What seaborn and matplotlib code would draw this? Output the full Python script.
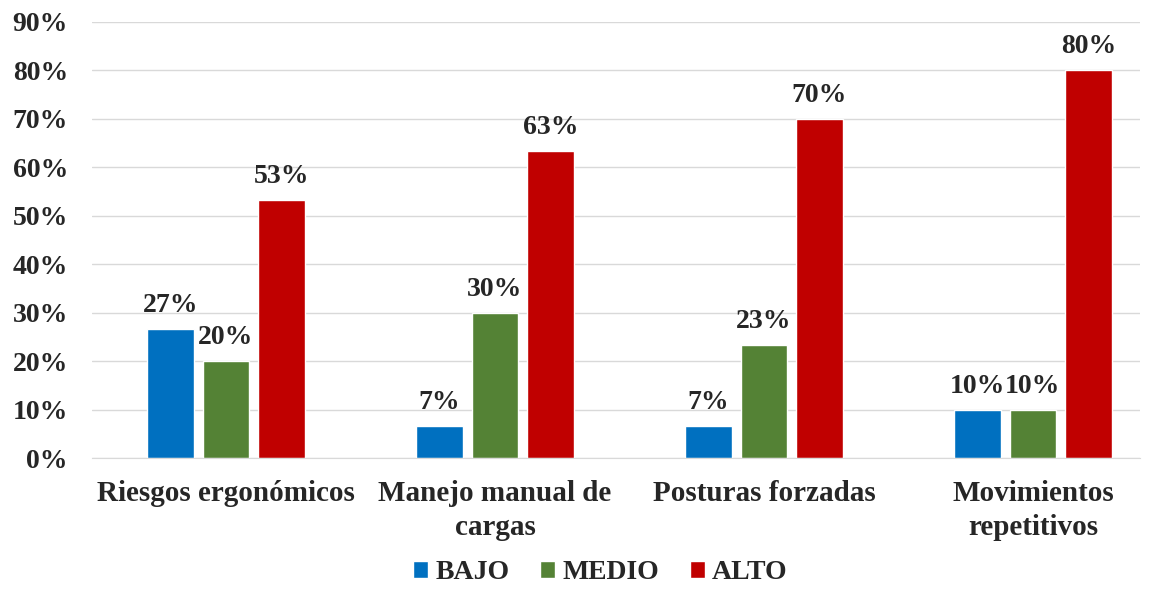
import pandas as pd
import seaborn as sns
import matplotlib.pyplot as plt
from matplotlib.ticker import PercentFormatter

# --- Data ---
CATEGORIES = ["Riesgos ergonómicos", "Manejo manual de\ncargas",
              "Posturas forzadas", "Movimientos\nrepetitivos"]
LEVELS = ["BAJO", "MEDIO", "ALTO"]
BAJO = [26.7, 6.7, 6.7, 10.0]
MEDIO = [20.0, 30.0, 23.3, 10.0]
ALTO = [53.3, 63.3, 70.0, 80.0]
COLORS = ["#0070C0", "#548235", "#C00000"]

df = pd.DataFrame({
    "categoria": CATEGORIES * 3,
    "nivel": [lv for lv in LEVELS for _ in CATEGORIES],
    "valor": BAJO + MEDIO + ALTO,
})

sns.set_style("white")
plt.rcParams["font.family"] = ["Liberation Serif", "DejaVu Serif"]
plt.rcParams["font.weight"] = "bold"

FS = 20

fig = plt.figure(figsize=(11.59, 5.89), dpi=100)
ax = fig.add_axes([0.079, 0.222, 0.905, 0.741])

sns.barplot(data=df, x="categoria", y="valor", hue="nivel",
            palette=COLORS, width=0.62, gap=0.16, ax=ax,
            saturation=1, legend=True)

for cont in ax.containers:
    ax.bar_label(cont, labels=[f"{v:.0f}%" for v in cont.datavalues],
                 padding=8, fontsize=FS, fontweight="bold")

ax.set_ylim(0, 90)
ax.set_xlim(-0.5, 3.4)
ax.set_yticks(range(0, 91, 10))
ax.yaxis.set_major_formatter(PercentFormatter(decimals=0))
ax.grid(axis="y", color="#D9D9D9", linewidth=1)
ax.set_axisbelow(True)
for s in ["top", "right", "left"]:
    ax.spines[s].set_visible(False)
ax.spines["bottom"].set_color("#D9D9D9")
ax.tick_params(axis="both", length=0, labelsize=FS)
ax.tick_params(axis="x", pad=16, labelsize=21)
ax.tick_params(axis="y", pad=17)
for t in ax.get_xticklabels() + ax.get_yticklabels():
    t.set_fontweight("bold")
for t in ax.get_xticklabels():
    t.set_linespacing(1.3)
ax.set_xlabel("")
ax.set_ylabel("")

ax.legend(loc="center", bbox_to_anchor=(0.485, -0.262), ncol=3,
          frameon=False, handlelength=0.55, handleheight=0.55,
          handletextpad=0.25, columnspacing=1.1,
          prop={"size": 20, "weight": "bold"})

fig.savefig("out.png", dpi=100)
